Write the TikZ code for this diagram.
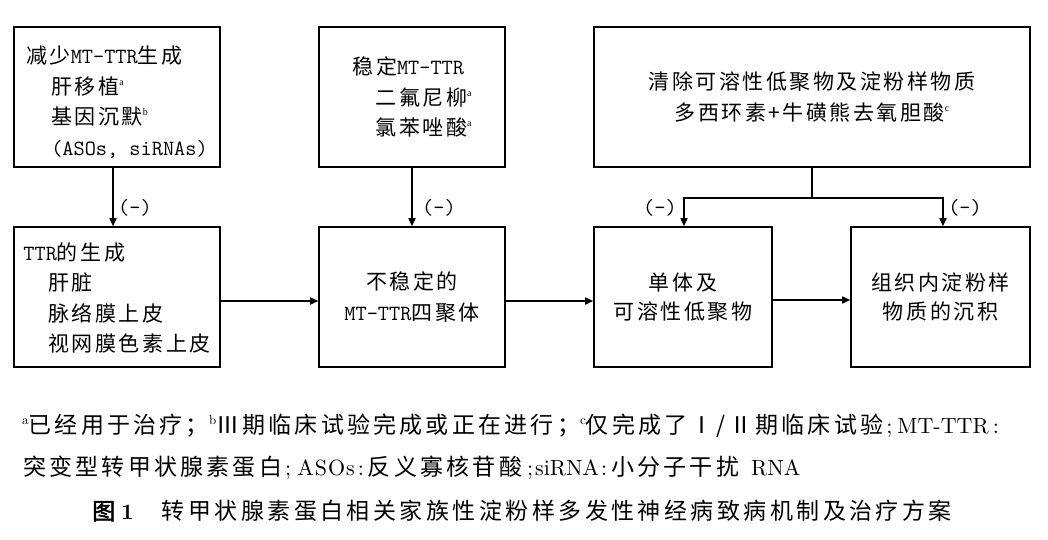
\documentclass[tikz,border=0pt]{standalone}
\usepackage{fontspec}
\usetikzlibrary{arrows.meta}
\newfontfamily\boxcjk[LetterSpace=12]{Noto Sans CJK SC}
\newfontfamily\serif{Liberation Serif}
\newfontfamily\fnlat{lmroman10-regular.otf}
\newfontfamily\fnlatb{lmroman10-bold.otf}
\newfontfamily\fncjk[LetterSpace=14]{Noto Sans CJK SC}
\newfontfamily\capf[LetterSpace=15]{Noto Sans CJK SC}
\newfontfamily\capb[FakeBold=2]{Noto Sans CJK SC}
\newcommand\mt[1]{{\ttfamily\fontsize{21.7}{30.5}\selectfont\addfontfeature{FakeBold=1.2}#1}}
\newcommand\bsup[1]{\raisebox{9pt}{\serif\fontsize{10}{10}\selectfont #1}}
\newcommand\fsup[1]{\raisebox{9pt}{\fnlat\fontsize{13}{13}\selectfont #1}}
\newcommand\fl[1]{{\fnlat\fontsize{22}{22}\selectfont #1}}
\begin{document}
\begin{tikzpicture}[x=1pt,y=-1pt,
  box/.style={draw=black, line width=1.6pt, inner sep=0pt, minimum height=140pt,
    font=\boxcjk\fontsize{21}{30.5}\selectfont},
  arr/.style={line width=1.6pt, -{Triangle[length=8pt,width=7pt]}},
  ln/.style={line width=1.6pt},
  lbl/.style={inner sep=0pt},
  fn/.style={inner sep=0pt, anchor=base west}]
\useasboundingbox (0,0) rectangle (1048,539);
% boxes
\node[box, minimum width=206pt, align=left] (b1) at (117,97) {%
  \rule{0pt}{28pt}减少\mt{MT-TTR}生成\\
  \hspace*{25pt}肝移植\bsup{a}\\
  \hspace*{25pt}基因沉默\bsup{b}\\
  \hspace*{25pt}\mt{(ASOs, siRNAs)}};
\node[box, minimum width=206pt, align=left] (b2) at (117,297) {%
  \rule{0pt}{20pt}\mt{TTR}的生成\\
  \hspace*{25pt}肝脏\\
  \hspace*{25pt}脉络膜上皮\\
  \hspace*{25pt}视网膜色素上皮};
\node[box, minimum width=186pt, align=left] (b3) at (412,97) {%
  稳定\mt{MT-TTR}\\
  \hspace*{23pt}二氟尼柳\bsup{a}\\
  \hspace*{23pt}氯苯唑酸\bsup{a}};
\node[box, minimum width=186pt, align=center] (b4) at (412,297) {%
  不稳定的\\ \mt{MT-TTR}四聚体};
\node[box, minimum width=436pt, align=center] (b5) at (812,97) {%
  清除可溶性低聚物及淀粉样物质\\ 多西环素+牛磺熊去氧胆酸\bsup{c}};
\node[box, minimum width=178pt, align=center, font=\boxcjk\fontsize{21}{29}\selectfont] (b6) at (683,297) {%
  单体及\\ 可溶性低聚物};
\node[box, minimum width=179pt, align=center, font=\boxcjk\fontsize{21}{29}\selectfont] (b7) at (940.5,297) {%
  组织内淀粉样\\ 物质的沉积};
% vertical arrows
\draw[arr] ([xshift=-4pt]b1.south) -- ([xshift=-4pt]b2.north);
\draw[arr] (b3.south) -- (b4.north);
\coordinate (j) at ([yshift=-30pt]b5.south);
\draw[ln] (b5.south) -- (j);
\draw[arr] (j) -| ([xshift=1pt]b6.north);
\draw[arr] (j) -| ([xshift=2.5pt]b7.north);
% horizontal arrows
\draw[arr] ([yshift=-4pt]b2.east) -- ([yshift=-4pt]b4.west);
\draw[arr] ([yshift=-4pt]b4.east) -- ([yshift=-4pt]b6.west);
\draw[arr] ([yshift=-3pt]b6.east) -- ([yshift=-3pt]b7.west);
% labels
\node[lbl] (m1) at (135,208) {\mt{(-)}};
\node[lbl] (m2) at (439,208) {\mt{(-)}};
\node[lbl] (m3) at (660,208) {\mt{(-)}};
\node[lbl] (m4) at (965,208) {\mt{(-)}};
% footnotes
\node[fn] (fn1) at (22,433.5) {\fncjk\fontsize{23}{23}\selectfont
  \fsup{a}已经用于治疗；\fsup{b}Ⅲ期临床试验完成或正在进行；\fsup{c}仅完成了Ⅰ/Ⅱ期临床试验%
  \fl{\hspace{3pt};\hspace{5pt}MT-TTR\hspace{4pt}:}};
\node[fn] (fn2) at (23,475.5) {\fncjk\fontsize{23}{23}\selectfont
  突变型转甲状腺素蛋白\fl{\hspace{3pt};\hspace{6pt}A\hspace{1pt}S\hspace{1pt}O\hspace{1pt}s\hspace{3pt}:\hspace{4pt}}反义寡核苷酸%
  \fl{\hspace{5pt};\hspace{2pt}siRNA\hspace{2pt}:\hspace{4pt}}小分子干扰\fl{\hspace{12pt}RNA}};
\node[fn] (cap) at (92,519.5) {\capb\fontsize{23}{23}\selectfont 图\hspace{6pt}{\fnlatb\fontsize{22}{22}\selectfont 1}\hspace{28pt}%
  \capf\fontsize{23}{23}\selectfont 转甲状腺素蛋白相关家族性淀粉样多发性神经病致病机制及治疗方案};
\end{tikzpicture}
\end{document}
